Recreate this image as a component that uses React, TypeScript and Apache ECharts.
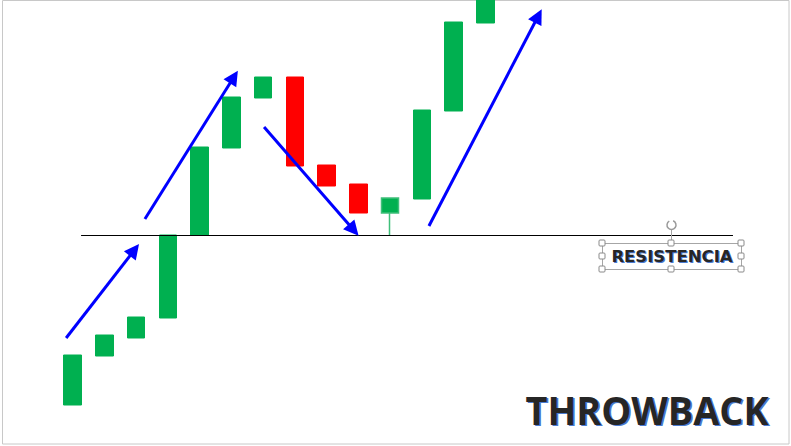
import * as echarts from "echarts";
import { useEffect, useRef } from "react";

// sessions on the x axis (one candle each, the rest left empty to the right)
const categories = Array.from({ length: 23 }, (_, i) => `D${i + 1}`);

// candles: [open, close, low, high]
const candles = [
    [41, 91, 41, 91],
    [90, 111, 90, 111],
    [108, 129, 108, 129],
    [128, 211, 128, 211],
    [211, 299, 211, 299],
    [298, 349, 298, 349],
    [348, 369, 348, 369],
    [369, 280, 280, 369],
    [281, 260, 260, 281],
    [262, 233, 233, 262],
    [233, 248, 211, 248],
    [247, 336, 247, 336],
    [335, 424, 335, 424],
    [423, 460, 423, 460]
];

// resistance level and where it is drawn (in candle index units)
const resistance = 211;
const resistanceSpan = [0.27, 20.79];

// trend arrows: [[fromIndex, fromPrice], [toIndex, toPrice]]
const arrows = [
    [[-0.2, 108], [1.95, 196]],
    [[2.28, 227], [5.08, 369]],
    [[6.03, 319], [8.85, 216]],
    [[11.22, 220], [14.66, 430]]
];

const labelText = "RESISTENCIA";
const titleText = "THROWBACK";

function outlinedText(text: string, x: number, y: number, font: string, off: number, scaleX = 1) {
    const base = { align: "center", verticalAlign: "middle", text, font };
    return [
        {
            type: "text",
            x: x + off,
            y: y + off,
            scaleX,
            z: 21,
            style: { ...base, fill: "#4a7bd0" }
        },
        {
            type: "text",
            x,
            y,
            scaleX,
            z: 22,
            style: { ...base, fill: "#262626" }
        }
    ];
}

export default function App() {
    const chartRef = useRef<HTMLDivElement>(null);

    useEffect(() => {
        if (!chartRef.current) return;
        const chart = echarts.init(chartRef.current, undefined, { renderer: "svg" });

        const handles = [
            [602, 243], [671, 243], [741, 243],
            [602, 256], [741, 256],
            [602, 269], [671, 269], [741, 269]
        ].map(([x, y]) => ({
            type: "rect",
            shape: { x: x - 3, y: y - 3, width: 6, height: 6, r: 1 },
            style: { fill: "#fff", stroke: "#8a8a8a", lineWidth: 1 },
            z: 20
        }));

        const option: echarts.EChartsOption = {
            animation: false,
            backgroundColor: "#fff",
            grid: { left: 56.6, right: 3.7, top: 0, bottom: 0 },
            xAxis: [
                { type: "category", data: categories, show: false, boundaryGap: true },
                { type: "value", min: -0.5, max: 22.5, show: false }
            ],
            yAxis: { type: "value", min: 0, max: 446, show: false },
            series: [
                {
                    type: "candlestick",
                    xAxisIndex: 0,
                    barWidth: 18,
                    clip: true,
                    itemStyle: {
                        color: "#00B050",
                        color0: "#FF0000",
                        borderColor: "#00B050",
                        borderColor0: "#FF0000",
                        borderWidth: 1
                    },
                    // only the candle with a visible wick gets the paler wick colour
                    data: candles.map((c) =>
                        c[2] < Math.min(c[0], c[1])
                            ? {
                                  value: c,
                                  itemStyle: {
                                      color: "#00B050",
                                      borderColor: "#3fbf7a",
                                      borderWidth: 1.5
                                  }
                              }
                            : c
                    )
                },
                {
                    type: "lines",
                    coordinateSystem: "cartesian2d",
                    xAxisIndex: 1,
                    symbol: "none",
                    lineStyle: { color: "#000", width: 1, opacity: 1 },
                    data: [
                        {
                            coords: [
                                [resistanceSpan[0], resistance],
                                [resistanceSpan[1], resistance]
                            ]
                        }
                    ],
                    z: 3
                },
                {
                    type: "lines",
                    coordinateSystem: "cartesian2d",
                    xAxisIndex: 1,
                    symbol: ["none", "triangle"],
                    symbolSize: [11, 15],
                    lineStyle: { color: "#0000FF", width: 3, opacity: 1 },
                    itemStyle: { color: "#0000FF" },
                    data: arrows.map((c) => ({ coords: c })),
                    z: 4
                }
            ],
            graphic: [
                {
                    type: "rect",
                    shape: { x: 2.5, y: 0.5, width: 786.5, height: 443.5 },
                    style: { fill: "none", stroke: "#c8c8c8", lineWidth: 1 },
                    z: 1
                },
                {
                    type: "rect",
                    shape: { x: 602.5, y: 243.5, width: 139, height: 26 },
                    style: { fill: "none", stroke: "#a6a6a6", lineWidth: 1 },
                    z: 19
                },
                {
                    type: "line",
                    shape: { x1: 671.5, y1: 230, x2: 671.5, y2: 243 },
                    style: { stroke: "#a6a6a6", lineWidth: 1 },
                    z: 19
                },
                {
                    type: "arc",
                    shape: { cx: 671.5, cy: 225, r: 4.5, startAngle: -1.2, endAngle: 4.2 },
                    style: { stroke: "#9a9a9a", lineWidth: 1.5, fill: "none" },
                    z: 19
                },
                ...handles,
                ...outlinedText(labelText, 672, 256, "bold 16.5px 'DejaVu Sans'", 1),
                ...outlinedText(titleText, 647, 409, "bold 40px 'Open Sans'", 1.5, 0.945)
            ]
        };

        chart.setOption(option);

        return () => {
            chart.dispose();
        };
    }, []);

    return (
        <div
            ref={chartRef}
            style={{ position: "fixed", left: 0, top: 0, width: 791, height: 446 }}
        />
    );
}
